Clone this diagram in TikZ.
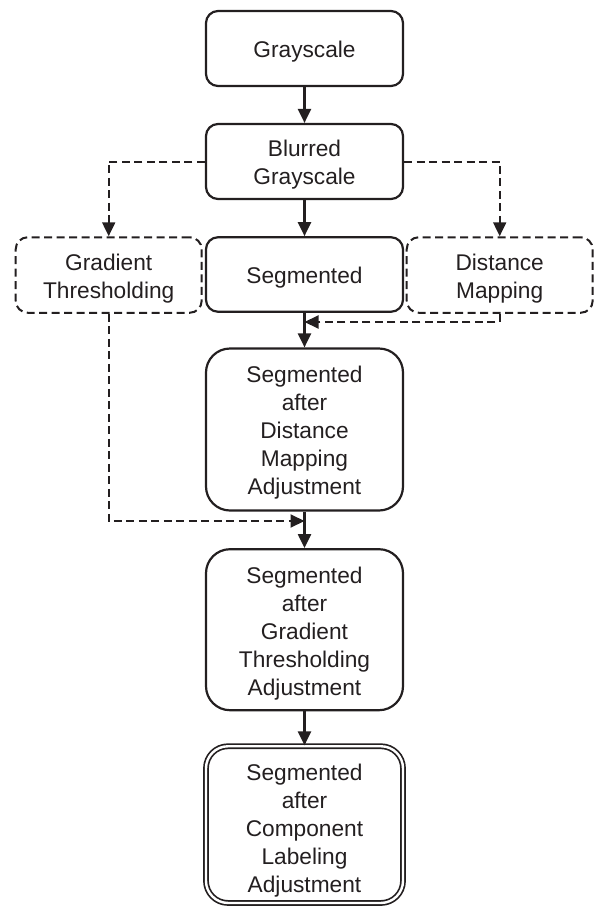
\documentclass[tikz,border=0pt]{standalone}
\usepackage{fontspec}
\setmainfont{Liberation Sans}
\usetikzlibrary{arrows.meta}
\definecolor{inkc}{RGB}{35,31,32}
% invisible strut on the first line: lowers the text block slightly inside its box
\newcommand\tstrut[1][23.5pt]{\rule{0pt}{#1}}
\begin{document}
\begin{tikzpicture}[x=1pt,y=-1pt,
  every node/.style={font=\fontsize{22.7}{28}\selectfont, text=inkc, align=center, inner sep=0pt},
  box/.style={draw=inkc, line width=2.2pt, rounded corners=12pt, minimum width=197pt, minimum height=75pt},
  tallbox/.style={box, rounded corners=24pt, minimum height=162pt},
  optbox/.style={box, line width=2pt, dash pattern=on 8pt off 4.5pt, minimum width=186pt, minimum height=75.5pt},
  finalbox/.style={box, rounded corners=22pt, line width=1.7pt, double=white, double distance=2.4pt, minimum height=156.7pt},
  flow/.style={draw=inkc, line width=2.2pt, -{Triangle[length=14pt,width=13pt]}},
  optflow/.style={flow, line width=2pt, dash pattern=on 8pt off 4.5pt}]
\useasboundingbox (0,0) rectangle (597,908);

% main column
\node[box]      (gray) at (304.5,48.5)  {\tstrut Grayscale};
\node[box]      (blur) at (304.5,161.5) {\tstrut Blurred\\Grayscale};
\node[box, minimum height=74.5pt] (seg) at (304.5,274.5) {\tstrut Segmented};
\node[tallbox]  (sdm)  at (304.5,429.5) {\tstrut Segmented\\after\\Distance\\Mapping\\Adjustment};
\node[tallbox, minimum height=161pt] (sgt) at (304.5,629.7) {\tstrut Segmented\\after\\Gradient\\Thresholding\\Adjustment};
\node[finalbox] (scl)  at (304.5,824.6) {\tstrut[29pt]Segmented\\after\\Component\\Labeling\\Adjustment};

% optional side branches
\node[optbox] (grad) at (108.7,275) {\tstrut Gradient\\Thresholding};
\node[optbox] (dist) at (499.7,275) {\tstrut Distance\\Mapping};

% junctions on the main column
\coordinate (dj) at (304.5,322);
\coordinate (gj) at (304.5,521);

\draw[flow] (gray.south) -- (blur.north);
\draw[flow] (blur.south) -- (seg.north);
\draw[flow] (seg.south) -- (sdm.north);
\draw[flow] (sdm.south) -- (sgt.north);
\draw[flow] (sgt.south) -- (scl.north);

\draw[optflow] (blur.west) -| (grad.north);
\draw[optflow] (blur.east) -| (dist.north);
\draw[optflow] (dist.south) |- (dj);
\draw[optflow] (grad.south) |- (gj);
\end{tikzpicture}
\end{document}
